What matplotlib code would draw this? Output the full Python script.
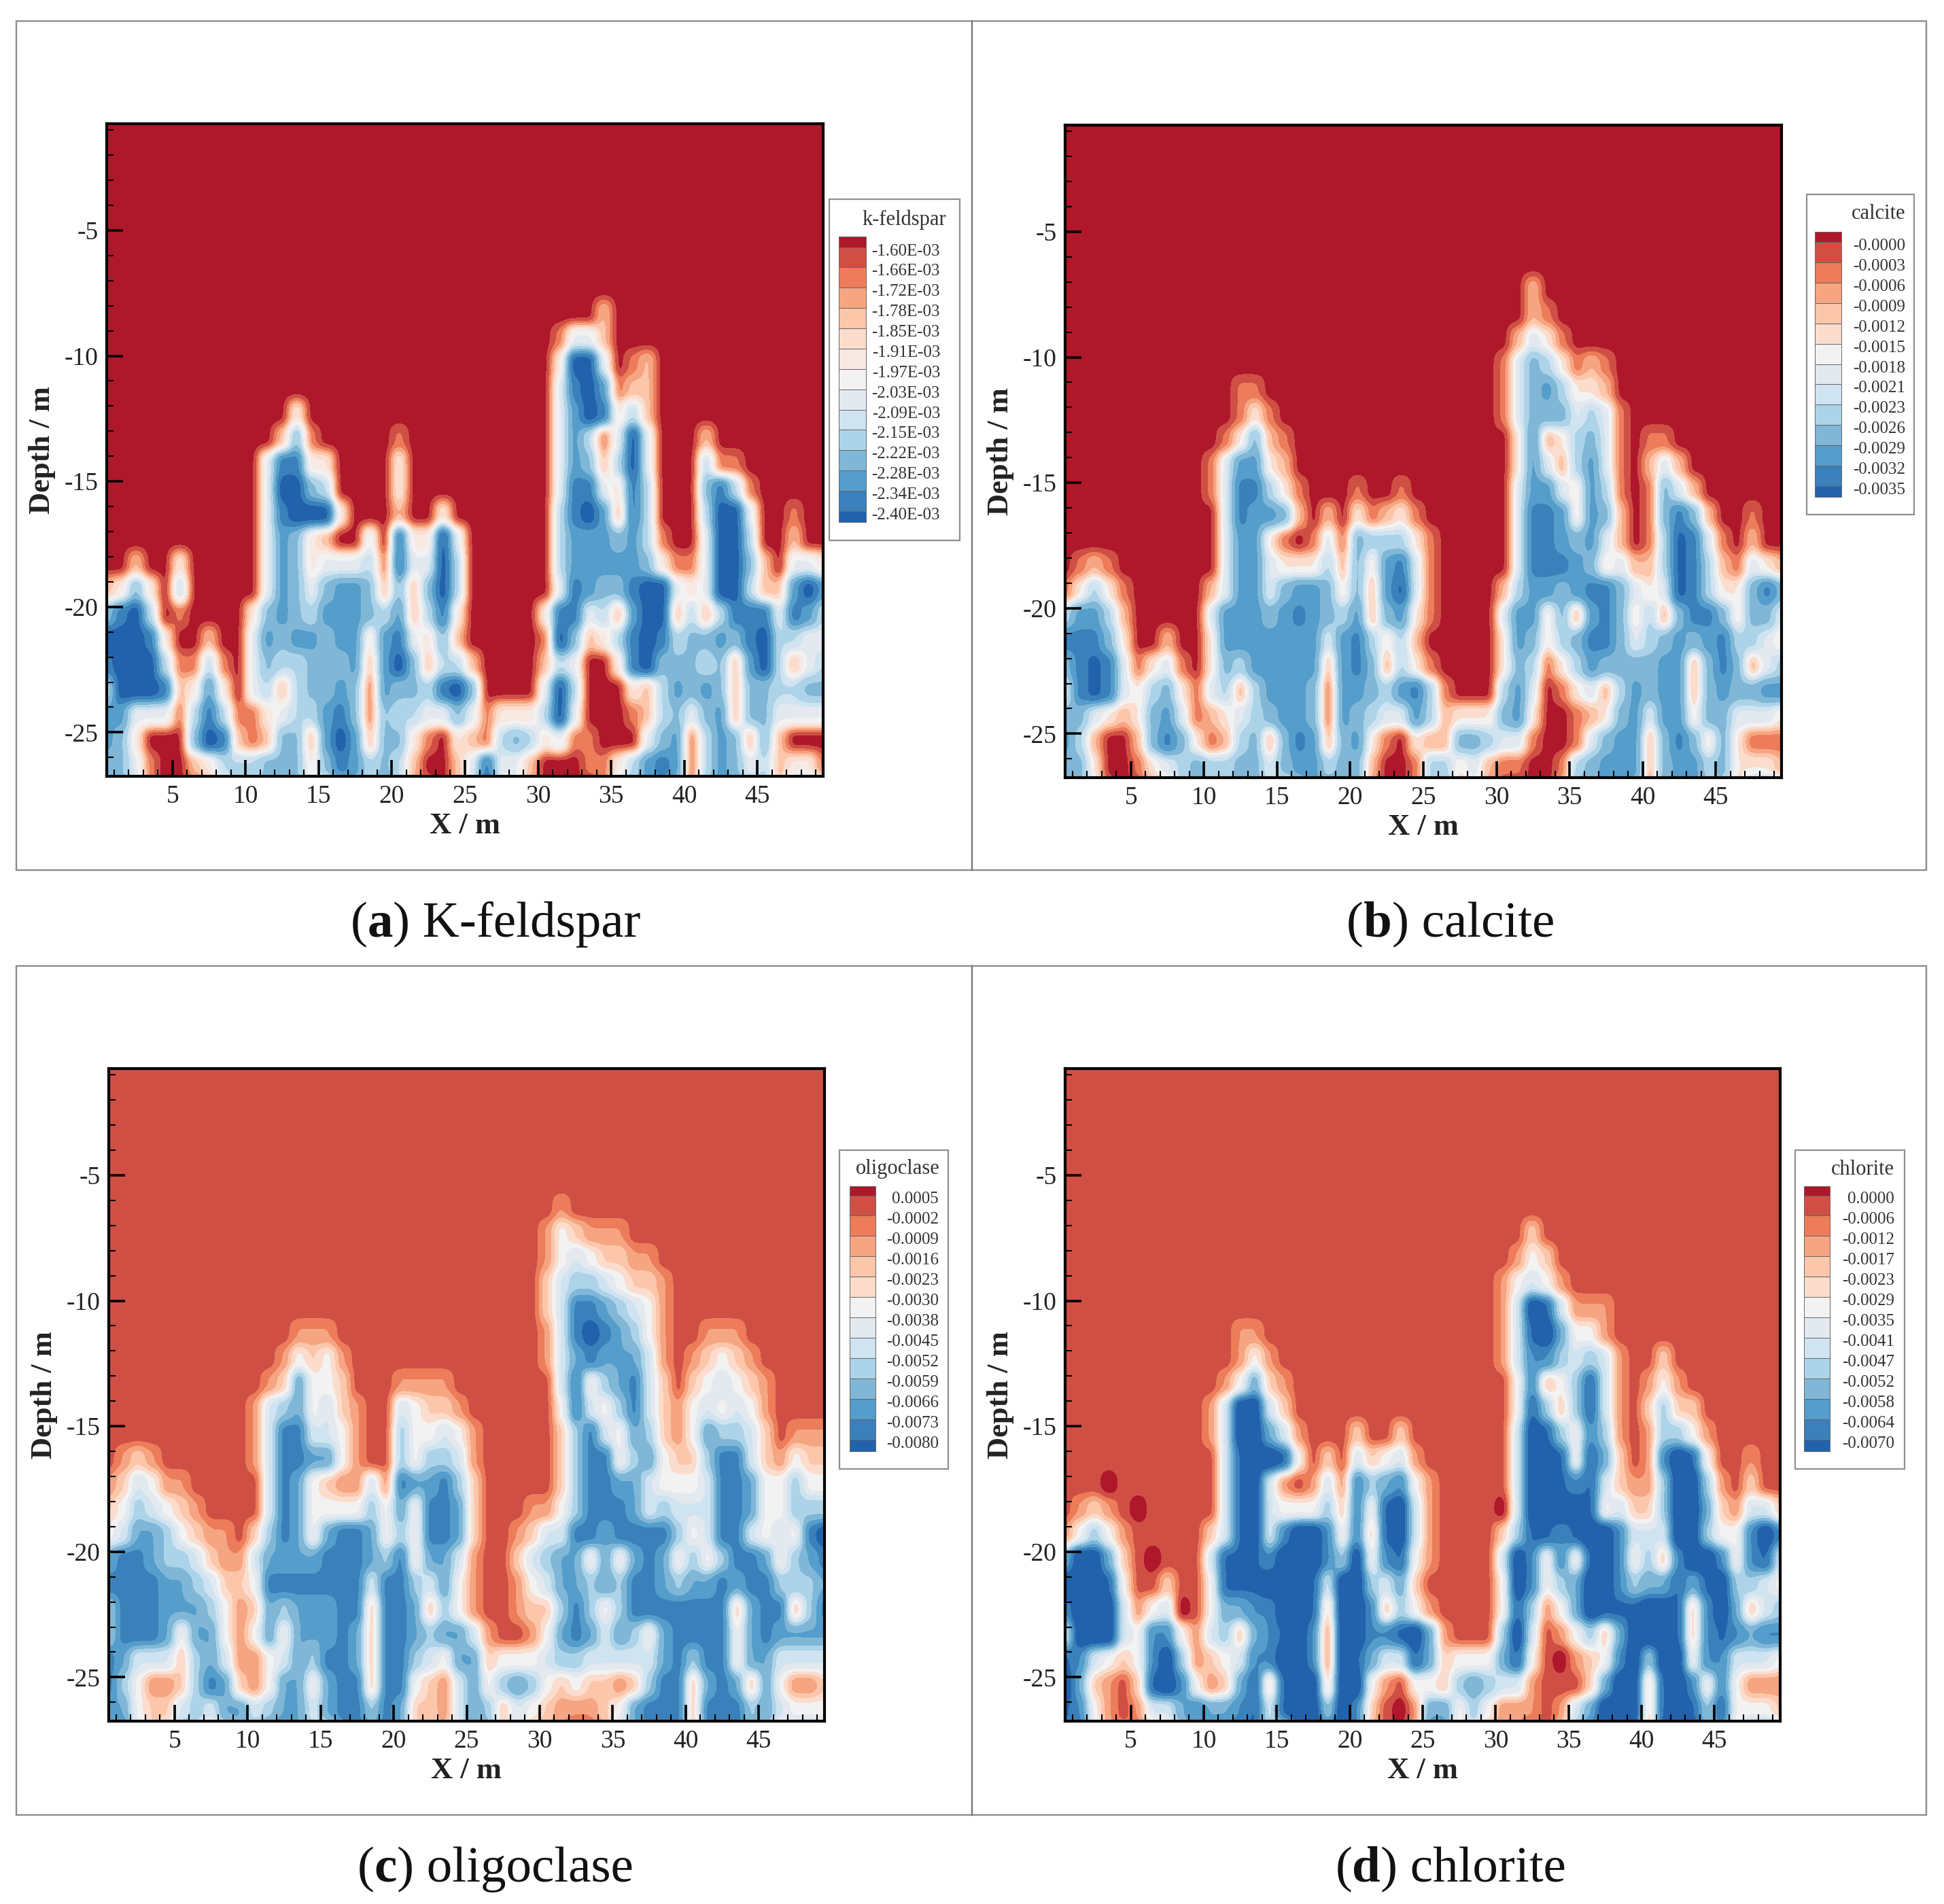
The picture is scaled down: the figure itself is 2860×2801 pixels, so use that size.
import numpy as np
import matplotlib
matplotlib.use("Agg")
import matplotlib.pyplot as plt
from matplotlib.patches import Rectangle
from matplotlib.ticker import MultipleLocator

plt.rcParams['font.family'] = ['Liberation Serif', 'DejaVu Serif']

Z = "0000000000"
DEPTHS = [-5.3, -6.3, -7.3, -8.3, -9.3, -10.3, -11.3, -12.3, -13.3, -14.3, -15.3, -16.3, -17.3, -18.3, -19.3,
          -20.3, -21.3, -22.3, -23.3, -24.3, -25.3, -26.3, -27.3]

# Read-off intensity per 1 m cell (0 = background, 9 = darkest blue, # = darker than background)
KFELDSPAR = [
    f"{Z} {Z} {Z} {Z} {Z}",
    f"{Z} {Z} {Z} {Z} {Z}",
    f"{Z} {Z} {Z} {Z} {Z}",
    f"{Z} {Z} {Z} 0000200000 {Z}",
    f"{Z} {Z} {Z} 0144200000 {Z}",
    f"{Z} {Z} {Z} 0399401200 {Z}",
    f"{Z} {Z} {Z} 0489712200 {Z}",
    f"{Z} 0003000000 {Z} 0479835200 {Z}",
    f"{Z} 0026100000 1000000000 0475149400 0200000000",
    f"{Z} 0488330000 3000000000 0476259400 0511000000",
    f"{Z} 0499650000 3000000000 0488438500 0685100000",
    f"{Z} 0489993000 2003000000 0589728500 0599400100",
    f"{Z} 0476320040 8339400000 0577767510 0499500200",
    "0020030000 0476344451 8449500000 0577777631 1499620443",
    "2363050000 0476467762 6269500000 0487668994 3499522797",
    "6895010000 3676577765 7258300000 3884527992 5258884875",
    "9998300200 4767767737 8436200000 1962358985 6676895544",
    "8999511510 4655666727 9625520000 2540038966 6562795245",
    "5999823730 4525667617 6658960000 4950003257 6762665566",
    "7744415851 1345578616 5544641333 5940001256 4672664444",
    "7630006982 1266279726 6310321565 3411000467 1576262000",
    "6641002355 5666368756 5200248442 0001135787 1576452331",
    "5651000146 6666535667 5110259341 0000156776 1677562674",
]
CALCITE = [
    f"{Z} {Z} {Z} {Z} {Z}",
    f"{Z} {Z} {Z} {Z} {Z}",
    f"{Z} {Z} {Z} 0020000000 {Z}",
    f"{Z} {Z} {Z} 0021000000 {Z}",
    f"{Z} {Z} {Z} 0243100000 {Z}",
    f"{Z} {Z} {Z} 1465312100 {Z}",
    f"{Z} 0011000000 {Z} 1467533200 {Z}",
    f"{Z} 0013100000 {Z} 1466645410 {Z}",
    f"{Z} 0136210000 {Z} 0372356410 1100000000",
    f"{Z} 1477320000 {Z} 0374257410 2420000000",
    f"{Z} 1488531000 1001000000 0477437510 1642000000",
    f"{Z} 0487762020 3123100000 0488737620 1686200100",
    f"{Z} 0477310141 6555310000 0488767420 1598410200",
    "0121000000 0477433352 6378410000 0488876342 2598521432",
    "1353100000 2477467763 6279410000 2577678864 3498533686",
    "5775200000 4777678765 7267310000 4773627863 5268863664",
    "8886300200 3777777747 8535200000 3763568864 5676785543",
    "6898413410 3657777727 8625310000 3651357666 6772686245",
    "4898435631 4525777617 7657851000 5740134257 6772676677",
    "6643236741 2345677617 6544752333 6730012367 4773664443",
    "7520026863 1256268726 7310322665 4410014677 2686363111",
    "6630013456 5566467756 6200155342 1100156777 2677563332",
    "5641001256 6666525778 6100156231 0000267776 1777652675",
]
OLIGOCLASE = [
    f"{Z} {Z} {Z} {Z} {Z}",
    f"{Z} {Z} {Z} 0100000000 {Z}",
    f"{Z} {Z} {Z} 1321110000 {Z}",
    f"{Z} {Z} {Z} 1343221100 {Z}",
    f"{Z} {Z} {Z} 2455432210 {Z}",
    f"{Z} {Z} {Z} 2477654310 {Z}",
    f"{Z} 0001110000 {Z} 1478765310 0111000000",
    f"{Z} 0013231000 {Z} 1467666410 1232100000",
    f"{Z} 0126332000 1111000000 0473567420 2343210000",
    f"{Z} 1456342100 4322100000 0374357421 3434310000",
    f"{Z} 1477443100 5334310000 0257436521 3655420111",
    f"0121000000 1477663100 5355410000 0257735632 2577421322",
    "1243110000 0476321141 7667520000 0257766433 3477633533",
    "2354321000 0476333353 6377620001 1357776454 4477633555",
    "3466532110 2576367763 5377620012 4477677775 3477434378",
    "6776554211 4666677765 7366410024 5663636763 5357763567",
    "7777665422 3777777747 7546310013 4665657765 6676775556",
    "5777666531 2656667727 7625310012 2575357777 7772677257",
    "5777636631 3636667627 7656641001 3676465367 7773676666",
    "7644425641 1346577627 7543662333 4554444467 5773664444",
    "7531125762 1366367727 7321463565 3232212577 2676263112",
    "6632245466 4566467757 6221465243 2111236777 2777564333",
    "6742364246 6776536777 6222466241 1100156777 1777652676",
]
CHLORITE = [
    f"{Z} {Z} {Z} {Z} {Z}",
    f"{Z} {Z} {Z} {Z} {Z}",
    f"{Z} {Z} {Z} 0020000000 {Z}",
    f"{Z} {Z} {Z} 0132000000 {Z}",
    f"{Z} {Z} {Z} 1343100000 {Z}",
    f"{Z} {Z} {Z} 1498411100 {Z}",
    f"{Z} 0011000000 {Z} 1489633100 {Z}",
    f"{Z} 0013100000 {Z} 1477545410 0200000000",
    f"{Z} 0136210000 {Z} 0372358410 1310000000",
    f"{Z} 1499420000 {Z} 0385258410 2522000000",
    f"{Z} 1499641000 2002000000 0498537510 1553100000",
    f"{Z} 0489983020 4234100000 0499838620 1798300100",
    "000#000000 0489410141 7567310000 0499878421 1599510200",
    "01210#0000 0489433352 7389410000 #499998342 2599621442",
    "1353100000 2489479973 7289410000 2588789974 4499533797",
    "699620#000 4888799975 9378310000 4973738973 5279973784",
    "9998300200 3888999849 9546200000 3973569975 6686895543",
    "79994134#0 3667799829 9725310000 3851369888 9982796245",
    "4999437731 4526789719 9778961000 5940135269 9982787677",
    "8743237951 2347799719 8644862333 6830#12379 5993774443",
    "9621028973 1268289929 9310332565 4410002699 2897373111",
    "8731014467 6678489959 720#166353 1110146999 2898583332",
    "7841101157 7888526999 7100177241 1100268998 1999662786",
]

XTICKS = [5, 10, 15, 20, 25, 30, 35, 40, 45]
YTICKS = [-5, -10, -15, -20, -25]

LABELS_A = ["-1.60E-03", "-1.66E-03", "-1.72E-03", "-1.78E-03", "-1.85E-03", "-1.91E-03", "-1.97E-03",
            "-2.03E-03", "-2.09E-03", "-2.15E-03", "-2.22E-03", "-2.28E-03", "-2.34E-03", "-2.40E-03"]
LABELS_B = ["-0.0000", "-0.0003", "-0.0006", "-0.0009", "-0.0012", "-0.0015", "-0.0018",
            "-0.0021", "-0.0023", "-0.0026", "-0.0029", "-0.0032", "-0.0035"]
LABELS_C = ["0.0005", "-0.0002", "-0.0009", "-0.0016", "-0.0023", "-0.0030", "-0.0038",
            "-0.0045", "-0.0052", "-0.0059", "-0.0066", "-0.0073", "-0.0080"]
LABELS_D = ["0.0000", "-0.0006", "-0.0012", "-0.0017", "-0.0023", "-0.0029", "-0.0035",
            "-0.0041", "-0.0047", "-0.0052", "-0.0058", "-0.0064", "-0.0070"]

C15 = ['#af182b', '#cf4f45', '#ec7c5a', '#f6a582', '#fcc6ab', '#fbdccd', '#f7e9e3', '#f2f2f2',
       '#e3e9ef', '#cfe3f0', '#add3e8', '#80b7d7', '#559dcb', '#3a80ba', '#2262ad']
C14 = [c for c in C15 if c != '#f7e9e3']

W, H = 2860, 2801
fig = plt.figure(figsize=(W / 100, H / 100), dpi=100, facecolor='white')


def px_axes(x0, y0, x1, y1):
    return fig.add_axes([x0 / W, 1 - y1 / H, (x1 - x0) / W, (y1 - y0) / H])


def resample(grid, coords, fine, steep):
    """Interpolate along axis 0 with an eased weight so cells keep a plateau."""
    idx = np.clip(np.searchsorted(coords, fine, side='right') - 1, 0, len(coords) - 2)
    t = (fine - coords[idx]) / (coords[idx + 1] - coords[idx])
    t = np.clip((t - 0.5) * steep + 0.5, 0, 1)
    t = t * t * (3 - 2 * t)
    return grid[idx] * (1 - t)[:, None] + grid[idx + 1] * t[:, None]


def blur(arr, sig, axis):
    n = int(3 * sig)
    k = np.exp(-0.5 * (np.arange(-n, n + 1) / sig) ** 2)
    k /= k.sum()
    return np.apply_along_axis(lambda v: np.convolve(np.pad(v, n, mode='edge'), k, 'valid'), axis, arr)


def field(rows):
    grid = []
    for r in rows:
        cells = []
        for g in r.split():
            cells += [(-1.0 if ch == '#' else float(ch)) for ch in g[:10].ljust(10, '0')]
        grid.append(cells)
    grid = np.array([[0.0] * 50] + grid)
    ys = np.array([-0.75] + DEPTHS, float)
    xs = np.arange(50) + 0.5
    xf = np.linspace(0.5, 49.5, 491)
    yf = np.linspace(-27.3, -0.75, 532)
    a = resample(grid[::-1], ys[::-1], yf, 1.5)
    b = resample(a.T, xs, xf, 1.15).T
    b = blur(b, 2.5, 1)
    b = blur(b, 3.0, 0)
    return xf, yf, b


def band_edges(start, top, count):
    frac = np.linspace(0, 1, count)
    return list(np.interp(frac, [0, 0.5, 0.7, 1], [start, 3.6, 5.0, top]))


def panel(rect, rows, colors, bg_second, top):
    ax = px_axes(*rect)
    xf, yf, zz = field(rows)
    n = len(colors)
    if bg_second:
        edges = [-3, -0.35] + band_edges(0.35, top, n - 2) + [11]
    else:
        edges = [-3] + band_edges(0.3, top, n - 1) + [11]
    ax.contourf(xf, yf, zz, levels=edges, colors=colors)
    ax.set_xlim(0.5, 49.5)
    ax.set_ylim(-26.75, -0.75)
    ax.set_xticks(XTICKS)
    ax.set_yticks(YTICKS)
    ax.set_yticklabels([str(v) for v in YTICKS])
    ax.xaxis.set_minor_locator(MultipleLocator(1))
    ax.yaxis.set_minor_locator(MultipleLocator(1))
    ax.tick_params(which='major', direction='in', length=17, width=2.6, labelsize=27, pad=9, color='black',
                   labelcolor='#222222')
    ax.tick_params(which='minor', direction='in', length=7, width=1.5, color='black')
    for s in ax.spines.values():
        s.set_linewidth(3)
    ax.set_xlabel("X / m", fontsize=32, fontweight='bold', color='#222222')
    ax.set_ylabel("Depth / m", fontsize=32, fontweight='bold', color='#222222')
    ax.xaxis.set_label_coords(0.5, -0.055)
    ax.yaxis.set_label_coords(-0.071, 0.5)
    return ax


RECT_A = (157, 182, 1211, 1142)
RECT_B = (1567, 184, 2621, 1144)
RECT_C = (160, 1572, 1213, 2532)
RECT_D = (1567, 1572, 2619, 2532)

panel(RECT_A, KFELDSPAR, C15, False, 8.4)
panel(RECT_B, CALCITE, C14, False, 8.6)
panel(RECT_C, OLIGOCLASE, C14, True, 7.4)
panel(RECT_D, CHLORITE, C14, True, 7.8)

ov = fig.add_axes([0, 0, 1, 1], zorder=5)
ov.set_xlim(0, W)
ov.set_ylim(H, 0)
ov.axis('off')
ov.patch.set_alpha(0)

# outer panel frames
for (x0, y0, x1, y1) in [(24, 31, 2834, 1280), (24, 1421, 2834, 2670)]:
    ov.add_patch(Rectangle((x0, y0), x1 - x0, y1 - y0, fill=False, ec='#8c8c8c', lw=1.7))
    ov.plot([1430, 1430], [y0, y1], color='#777777', lw=1.7)


def legend(box, sw_x, sw_y, lab_y, lab_right, title, title_y, title_right, labels, colors):
    bx0, by0, bx1, by1 = box
    ov.add_patch(Rectangle((bx0, by0), bx1 - bx0, by1 - by0, fc='white', ec='#8f8f8f', lw=1.6))
    ys = np.linspace(lab_y[0], lab_y[1], len(labels))
    bounds = [sw_y[0]] + list(ys - 5) + [sw_y[1]]
    for i, c in enumerate(colors):
        ov.add_patch(Rectangle((sw_x[0], bounds[i]), sw_x[1] - sw_x[0], bounds[i + 1] - bounds[i],
                               fc=c, ec='#666666', lw=0.7))
    for y, t in zip(ys, labels):
        ov.text(lab_right, y + 1, t, ha='right', va='center', fontsize=18.0, color='#333333')
    ov.text(title_right, title_y, title, ha='right', va='center', fontsize=22, color='#333333')


legend((1220, 293, 1412, 795), (1234, 1274), (348, 768), (368.5, 757), 1383, "k-feldspar", 323, 1392, LABELS_A, C15)
legend((2658, 286, 2816, 757), (2670, 2709), (341, 731), (361, 720), 2803, "calcite", 315, 2803, LABELS_B, C14)
legend((1235, 1692, 1395, 2161), (1250, 1288), (1745, 2135), (1763.5, 2122.5), 1381, "oligoclase", 1720, 1383, LABELS_C, C14)
legend((2641, 1692, 2802, 2161), (2654, 2692), (1745, 2135), (1763.5, 2122.5), 2787, "chlorite", 1720, 2787, LABELS_D, C14)


def caption(cx, cy, letter, name):
    parts = [("(", 'normal'), (letter, 'bold'), (") " + name, 'normal')]
    fig.canvas.draw()
    r = fig.canvas.get_renderer()
    arts = [ov.text(0, cy, t, fontsize=54, fontweight=w, va='center', ha='left', color='#111111') for t, w in parts]
    widths = [a.get_window_extent(r).width for a in arts]
    x = cx - sum(widths) / 2
    for a, wd in zip(arts, widths):
        a.set_x(x)
        x += wd


caption(729, 1360, "a", "K-feldspar")
caption(2134, 1360, "b", "calcite")
caption(729, 2750, "c", "oligoclase")
caption(2134, 2750, "d", "chlorite")

fig.savefig("out.png", dpi=100, facecolor='white')
